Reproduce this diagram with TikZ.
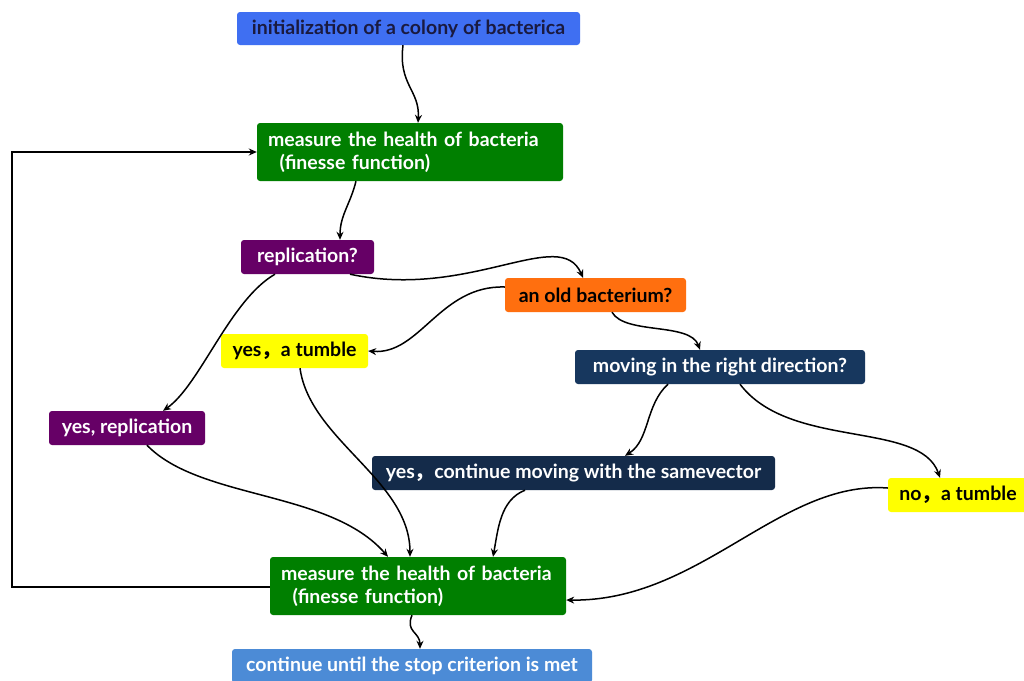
\documentclass[tikz,border=0pt]{standalone}
\usepackage{fontspec}
\setmainfont{Lato}
\newfontfamily\cjk{Noto Sans CJK SC}
\usetikzlibrary{arrows.meta}
\definecolor{cinit}{HTML}{3F6FF2}
\definecolor{cgreen}{HTML}{007F00}
\definecolor{cpurple}{HTML}{660066}
\definecolor{corange}{HTML}{FF6F0F}
\definecolor{cyellow}{HTML}{FFFF00}
\definecolor{cnavy}{HTML}{17375E}
\definecolor{cnavyb}{HTML}{142B4A}
\definecolor{cstop}{HTML}{4C8BD6}
\definecolor{cdark}{HTML}{1A1A40}
\newcommand{\fwc}{{\cjk ，}}
\begin{document}
\begin{tikzpicture}[x=1pt,y=-1pt,
  box/.style={rectangle, rounded corners=3pt, inner sep=0pt, font=\fontsize{19.5}{23}\selectfont\bfseries},
  twoline/.style={box, align=left, text width=#1, inner xsep=11pt, minimum height=58pt},
  conn/.style={line width=1.5pt, -{Stealth[length=8pt,width=7pt]}}]
\useasboundingbox (0,0) rectangle (1024,680);
\fill[white] (0,0) rectangle (1024,680);
\node[box, fill=cinit, text=cdark, minimum width=343pt, minimum height=33pt] (init) at (408.5,28.5) {initialization of a colony of bacterica};
\node[twoline=284pt, fill=cgreen, text=white] (m1) at (410,152) {measure the health of bacteria\\\hspace*{0.6em}(finesse function)};
\node[box, fill=cpurple, text=white, minimum width=133pt, minimum height=34pt] (rep) at (307.5,257) {replication?};
\node[box, fill=corange, text=black, minimum width=181pt, minimum height=34pt] (old) at (595.5,295) {an old bacterium?};
\node[box, fill=cyellow, text=black, minimum width=147pt, minimum height=34pt] (tum) at (294.5,351) {yes\fwc a tumble};
\node[box, fill=cnavy, text=white, minimum width=290pt, minimum height=34pt] (mov) at (720,367) {moving in the right direction?};
\node[box, fill=cpurple, text=white, minimum width=156pt, minimum height=34pt] (yrep) at (127,428) {yes, replication};
\node[box, fill=cnavyb, text=white, minimum width=403pt, minimum height=34pt] (cont) at (573.5,473) {yes\fwc continue moving with the samevector};
\node[box, fill=cyellow, text=black, minimum width=140pt, minimum height=34pt] (no) at (958,495) {no\fwc a tumble};
\node[twoline=274pt, fill=cgreen, text=white] (m2) at (418,586) {measure the health of bacteria\\\hspace*{0.6em}(finesse function)};
\node[box, fill=cstop, text=white, minimum width=360pt, minimum height=34pt] (stop) at (412,666) {continue until the stop criterion is met};
\coordinate (lc) at (12,587);
% connectors
\draw[conn] (init.south -| 403,0) .. controls (398,85) and (420,90) .. (m1.north -| 418,0);
\draw[conn] (m1.south -| 356,0) .. controls (350,205) and (340,215) .. (rep.north -| 340,0);
\draw[conn] (rep.south -| 350,0) .. controls (470,300) and (560,225) .. (old.north -| 583,0);
\draw[conn] (old.west |- 0,287) .. controls (440,285) and (420,355) .. (tum.east);
\draw[conn] (old.south -| 612,0) .. controls (625,335) and (690,322) .. (mov.north -| 700,0);
\draw[conn] (rep.south -| 275,0) .. controls (230,300) and (200,385) .. (yrep.north -| 163,0);
\draw[conn] (mov.south -| 668,0) .. controls (645,405) and (650,440) .. (cont.north -| 625,0);
\draw[conn] (mov.south -| 740,0) .. controls (790,450) and (920,420) .. (no.north -| 940,0);
\draw[conn] (tum.south -| 300,0) .. controls (310,440) and (410,480) .. (m2.north -| 410,0);
\draw[conn] (yrep.south -| 147,0) .. controls (200,500) and (330,490) .. (m2.north -| 388,0);
\draw[conn] (cont.south -| 525,0) .. controls (500,500) and (498,530) .. (m2.north -| 493,0);
\draw[conn] (no.west |- 0,488) .. controls (780,480) and (700,602) .. (m2.east |- 0,600);
\draw[conn] (m2.west |- lc) -- (lc) |- (m1.west);
\draw[conn] (m2.south -| 412,0) .. controls (405,632) and (420,632) .. (stop.north -| 420,0);
\end{tikzpicture}
\end{document}
